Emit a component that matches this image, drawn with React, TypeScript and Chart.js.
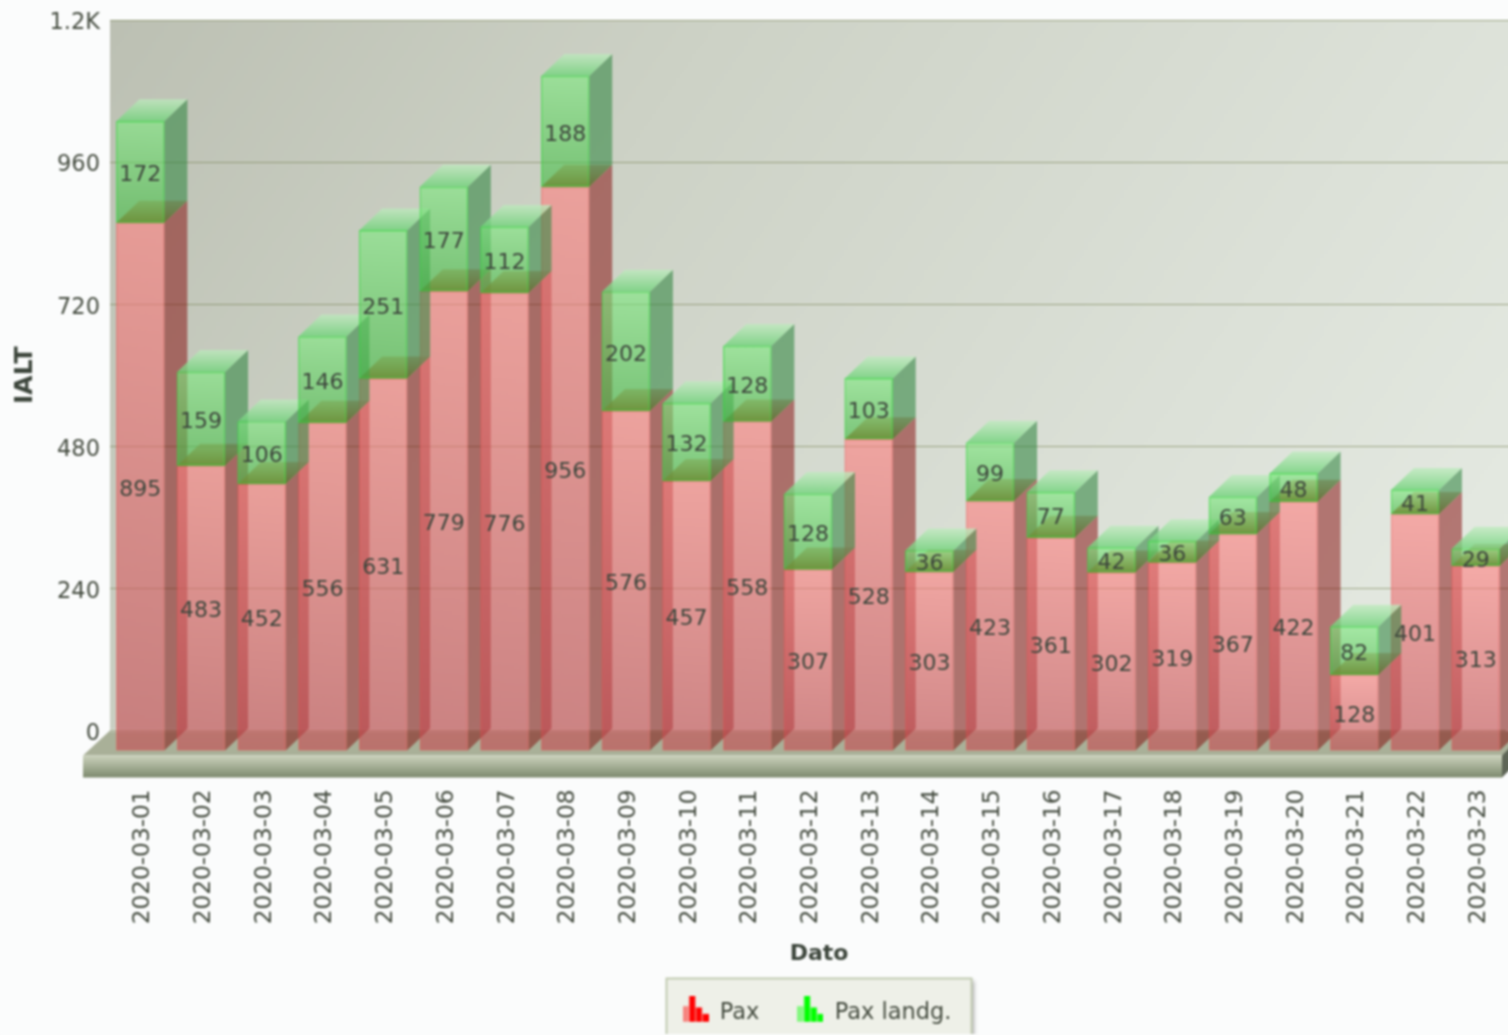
import React, { useEffect, useRef } from "react";
import { Chart, registerables } from "chart.js";

Chart.register(...registerables);

const dates = [
  "2020-03-01","2020-03-02","2020-03-03","2020-03-04","2020-03-05","2020-03-06","2020-03-07","2020-03-08",
  "2020-03-09","2020-03-10","2020-03-11","2020-03-12","2020-03-13","2020-03-14","2020-03-15","2020-03-16",
  "2020-03-17","2020-03-18","2020-03-19","2020-03-20","2020-03-21","2020-03-22","2020-03-23",
];
const pax = [895,483,452,556,631,779,776,956,576,457,558,307,528,303,423,361,302,319,367,422,128,401,313];
const paxLandg = [172,159,106,146,251,177,112,188,202,132,128,128,103,36,99,77,42,36,63,48,82,41,29];
const seriesNames = ["Pax", "Pax landg."];
const iconBars = [0.6, 1, 0.55, 0.3];

const FONT = "'DejaVu Sans', Verdana, sans-serif";
const TEXT = "#454c40";
const DX = 23;   // 3D depth, horizontal
const DY = 22;   // 3D depth, vertical
const SHIFT = 20; // front plane lies below the back wall

const CANVAS_W = 1639;
const CANVAS_H = 1034;

function gradientFor(top: string, bottom: string) {
  return (ctx: any) => {
    if (ctx.type !== "data" || !Array.isArray(ctx.raw)) return top;
    const s = ctx.chart.scales.yBars;
    if (!s) return top;
    const g = ctx.chart.ctx.createLinearGradient(0, s.getPixelForValue(ctx.raw[1]), 0, s.getPixelForValue(ctx.raw[0]));
    g.addColorStop(0, top);
    g.addColorStop(1, bottom);
    return g;
  };
}

function icon(color: string) {
  const c = document.createElement("canvas");
  c.width = 26;
  c.height = 34;
  const x = c.getContext("2d")!;
  iconBars.forEach((h, i) => {
    x.fillStyle = color;
    x.globalAlpha = i === 0 ? 0.45 : 1;
    x.fillRect(i * 6.7, 26 * (1 - h), 6, 26 * h);
  });
  return c;
}

const faces = [
  { side: "rgba(130,5,5,0.5)", topA: "rgba(190,100,60,0.45)", topB: "rgba(180,70,35,0.9)" },
  { side: "rgba(50,135,65,0.58)", topA: "rgba(190,235,190,0.75)", topB: "rgba(110,210,120,0.8)" },
];

const scene3d = {
  id: "scene3d",
  afterLayout(chart: any) {
    // the legend and the x title are centred on the whole back wall, which runs past the right of the page
    const l = chart.legend;
    if (l) {
      l.left += 64;
      l.right += 64;
    }
    chart.scales.x.right += 22;
    chart.scales.x.bottom += 4;
  },
  beforeDraw(chart: any) {
    const { ctx, chartArea: a } = chart;
    const right = 1508;
    const floorY = a.bottom;
    const frontY = floorY + 25;
    const frontX = a.left - 27;
    ctx.save();
    ctx.fillStyle = "#fbfcfc";
    ctx.fillRect(0, 0, chart.width, chart.height);
    // back wall
    const g = ctx.createLinearGradient(a.left, a.top, right, floorY + 250);
    g.addColorStop(0, "#bcc0b3");
    g.addColorStop(0.3, "#cdd2c6");
    g.addColorStop(0.65, "#dce1d8");
    g.addColorStop(1, "#eaefe8");
    ctx.fillStyle = g;
    ctx.fillRect(a.left, a.top, right - a.left + 10, floorY - a.top);
    // floor top
    ctx.fillStyle = "#a9b098";
    ctx.beginPath();
    ctx.moveTo(a.left, floorY);
    ctx.lineTo(right + 30, floorY);
    ctx.lineTo(right + 4, frontY);
    ctx.lineTo(frontX, frontY);
    ctx.closePath();
    ctx.fill();
    ctx.fillStyle = "rgba(255,255,255,0.65)";
    ctx.fillRect(a.left, floorY - 1, right - a.left + 10, 2);
    // floor slab front
    const s = ctx.createLinearGradient(0, frontY, 0, frontY + 22);
    s.addColorStop(0, "#cbd2bc");
    s.addColorStop(1, "#7d8a6e");
    ctx.fillStyle = s;
    ctx.fillRect(frontX, frontY, right - 6 - frontX, 22);
    ctx.fillStyle = "#5e6556";
    ctx.beginPath();
    ctx.moveTo(right - 6, frontY);
    ctx.lineTo(right + 2, frontY - 8);
    ctx.lineTo(right + 2, frontY + 14);
    ctx.lineTo(right - 6, frontY + 22);
    ctx.closePath();
    ctx.fill();
    // legend panel
    const boxes = chart.legend?.legendHitBoxes;
    if (boxes?.length) {
      const l = boxes[0].left - 16;
      const r = boxes[boxes.length - 1].left + boxes[boxes.length - 1].width + 20;
      const t = chart.legend.top + 15;
      ctx.shadowColor = "rgba(90,90,90,0.5)";
      ctx.shadowBlur = 4;
      ctx.shadowOffsetX = 3;
      ctx.shadowOffsetY = 2;
      ctx.fillStyle = "#eef0e8";
      ctx.fillRect(l, t, r - l, chart.height - t + 10);
      ctx.shadowColor = "transparent";
      ctx.strokeStyle = "#c2cbb2";
      ctx.lineWidth = 2;
      ctx.strokeRect(l, t, r - l, chart.height - t + 10);
    }
    ctx.restore();
  },
  beforeDatasetsDraw(chart: any) {
    // grid lines run on to the end of the back wall
    const { ctx, chartArea: a, scales } = chart;
    ctx.save();
    ctx.strokeStyle = "rgba(120,130,85,0.65)";
    ctx.lineWidth = 1;
    scales.y.ticks.forEach((t: any) => {
      if (t.value === 0) return;
      const y = Math.round(scales.y.getPixelForValue(t.value)) + 0.5;
      ctx.beginPath();
      ctx.moveTo(a.right, y);
      ctx.lineTo(a.right + 30, y);
      ctx.stroke();
    });
    ctx.restore();
  },
  beforeDatasetDraw(chart: any, args: any) {
    const { ctx } = chart;
    const face = faces[args.index];
    ctx.save();
    ctx.translate(0, SHIFT);
    args.meta.data.forEach((el: any) => {
      const w = el.width / 2;
      const x0 = el.x - w;
      const x1 = el.x + w;
      const top = el.y;
      const bot = el.base;
      // side
      ctx.fillStyle = face.side;
      ctx.beginPath();
      ctx.moveTo(x1, top);
      ctx.lineTo(x1 + DX, top - DY);
      ctx.lineTo(x1 + DX, bot - DY);
      ctx.lineTo(x1, bot);
      ctx.closePath();
      ctx.fill();
      // top
      const g = ctx.createLinearGradient(0, top - DY, 0, top);
      g.addColorStop(0, face.topA);
      g.addColorStop(1, face.topB);
      ctx.fillStyle = g;
      ctx.beginPath();
      ctx.moveTo(x0, top);
      ctx.lineTo(x0 + DX, top - DY);
      ctx.lineTo(x1 + DX, top - DY);
      ctx.lineTo(x1, top);
      ctx.closePath();
      ctx.fill();
    });
  },
  afterDatasetDraw(chart: any) {
    chart.ctx.restore();
  },
  afterDatasetsDraw(chart: any) {
    const { ctx } = chart;
    ctx.save();
    ctx.font = `22px ${FONT}`;
    ctx.fillStyle = "#3d463c";
    ctx.textAlign = "center";
    ctx.textBaseline = "middle";
    [pax, paxLandg].forEach((vals, di) => {
      chart.getDatasetMeta(di).data.forEach((el: any, i: number) => {
        ctx.fillText(String(vals[i]), el.x, (el.y + el.base) / 2 + SHIFT + 3.5);
      });
    });
    ctx.restore();
  },
};

export default function App() {
  const ref = useRef<HTMLCanvasElement>(null);
  useEffect(() => {
    document.body.style.background = "#fbfcfc";
    const chart = new Chart(ref.current!, {
      type: "bar",
      data: {
        labels: dates,
        datasets: [
          {
            label: seriesNames[0],
            data: pax.map((v) => [0, v]),
            order: 1,
            yAxisID: "yBars",
            clip: false,
            backgroundColor: gradientFor("rgba(255,128,128,0.6)", "rgba(197,73,80,0.6)"),
            borderColor: "rgba(235,75,75,0.45)",
            borderWidth: 1,
            borderSkipped: false,
            barThickness: 48,
            grouped: false,
          } as any,
          {
            label: seriesNames[1],
            data: paxLandg.map((v, i) => [pax[i], pax[i] + v]),
            order: 0,
            yAxisID: "yBars",
            clip: false,
            backgroundColor: gradientFor("rgba(127,232,128,0.62)", "rgba(67,185,68,0.62)"),
            borderColor: "rgba(50,215,60,0.65)",
            borderWidth: 1,
            borderSkipped: false,
            barThickness: 48,
            grouped: false,
          } as any,
        ],
      },
      options: {
        responsive: false,
        animation: false,
        devicePixelRatio: 1,
        layout: { padding: { top: 20, right: 133, left: 0, bottom: 0 } },
        scales: {
          x: {
            grid: { display: false, drawTicks: false },
            border: { display: false },
            ticks: {
              autoSkip: false,
              minRotation: 90,
              maxRotation: 90,
              padding: 59,
              labelOffset: 3,
              color: TEXT,
              font: { family: FONT, size: 23.2 },
            },
            title: {
              display: true,
              text: "Dato",
              color: "#3d463c",
              font: { family: FONT, size: 22, weight: "bold" },
              padding: { top: 0, bottom: 0 },
            },
            afterFit(scale: any) {
              scale.height = 233;
              scale.paddingLeft = 0;
              scale.paddingRight = 0;
            },
          },
          y: {
            min: 0,
            max: 1200,
            grid: { color: "rgba(120,130,85,0.65)", drawTicks: false },
            border: { display: false },
            ticks: {
              stepSize: 240,
              padding: 10,
              labelOffset: 3.5,
              color: TEXT,
              font: { family: FONT, size: 22.5 },
              callback: (v: any) => (v >= 1000 ? `${v / 1000}K` : `${v}`),
            },
            title: {
              display: true,
              text: "IALT",
              color: "#3d463c",
              font: { family: FONT, size: 25, weight: "bold" },
              padding: { top: 10, bottom: 0 },
            },
            afterFit(scale: any) {
              scale.width = 110;
              scale.paddingTop = 0;
              scale.paddingBottom = 0;
            },
          },
          yBars: { display: false, min: 0, max: 1205 },
        },
        plugins: {
          tooltip: { enabled: false },
          title: { display: false },
          legend: {
            position: "bottom",
            labels: {
              usePointStyle: true,
              pointStyleWidth: 26,
              padding: 38,
              color: TEXT,
              font: { family: FONT, size: 22.5 },
              generateLabels: () =>
                seriesNames.map((text, i) => ({
                  text,
                  datasetIndex: i,
                  hidden: false,
                  fontColor: TEXT,
                  lineWidth: 0,
                  pointStyle: icon(i === 0 ? "#ff0000" : "#00ff00") as any,
                })),
            },
          },
        },
      } as any,
      plugins: [scene3d],
    });
    return () => chart.destroy();
  }, []);
  return (
    <div style={{ position: "fixed", left: 0, top: 0, width: 1508, height: 1035, overflow: "hidden", background: "#fbfcfc" }}>
      <canvas ref={ref} width={CANVAS_W} height={CANVAS_H} style={{ display: "block", filter: "blur(0.9px)" }} />
    </div>
  );
}
